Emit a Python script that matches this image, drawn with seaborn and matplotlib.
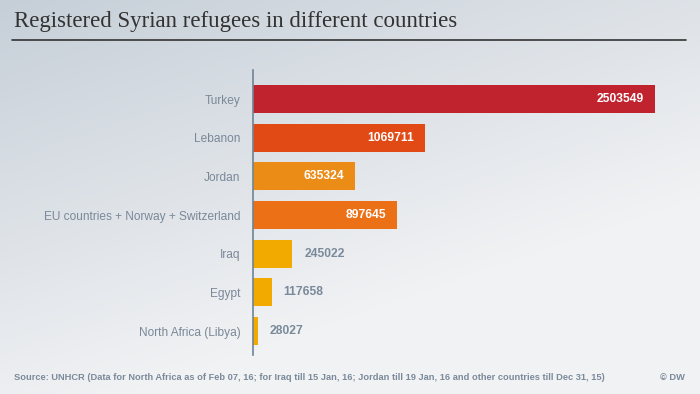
import numpy as np
import pandas as pd
import matplotlib
matplotlib.use("Agg")
import matplotlib.pyplot as plt
import seaborn as sns

countries = ["Turkey", "Lebanon", "Jordan", "EU countries + Norway + Switzerland",
             "Iraq", "Egypt", "North Africa (Libya)"]
refugees = [2503549, 1069711, 635324, 897645, 245022, 117658, 28027]
bar_colors = ["#C0222E", "#E24A15", "#EB8C17", "#EB7016", "#F2AA00", "#F2AA00", "#F2AA00"]
label_inside = [True, True, True, True, False, False, False]

title = "Registered Syrian refugees in different countries"
source = ("Source: UNHCR (Data for North Africa as of Feb 07, 16; for Iraq till 15 Jan, 16; "
          "Jordan till 19 Jan, 16 and other countries till Dec 31, 15)")

df = pd.DataFrame({"country": countries, "refugees": refugees})

sns.set_style("white")
plt.rcParams["font.family"] = ["Liberation Sans", "DejaVu Sans"]

fig = plt.figure(figsize=(7, 3.94), dpi=100)

# gradient background
bg = fig.add_axes([0, 0, 1, 1], zorder=-10)
gx, gy = np.meshgrid(np.linspace(0, 1, 200), np.linspace(0, 1, 120))
g = np.clip(0.55 * gx + 0.9 * gy, 0, 1)
c0 = np.array([0xC6, 0xCF, 0xD8]) / 255
c1 = np.array([0xF1, 0xF2, 0xF4]) / 255
img = c0[None, None, :] * (1 - g[..., None]) + c1[None, None, :] * g[..., None]
bg.imshow(img, aspect="auto", extent=[0, 1, 0, 1], origin="upper")
bg.set_xlim(0, 1)
bg.set_ylim(0, 1)
bg.axis("off")

ax = fig.add_axes([253 / 700, 1 - 355 / 394, (655 - 253) / 700, 285 / 394])
ax.patch.set_alpha(0)
sns.barplot(data=df, x="refugees", y="country", hue="country", palette=bar_colors,
            legend=False, width=0.72, ax=ax, saturation=1, linewidth=0)
ax.set_xlim(0, max(refugees))
ax.set_ylim(6.62, -0.75)
ax.set_xlabel("")
ax.set_ylabel("")
ax.set_xticks([])
for s in ["top", "right", "bottom"]:
    ax.spines[s].set_visible(False)
ax.spines["left"].set_color("#6F8496")
ax.spines["left"].set_linewidth(1.2)
ax.tick_params(axis="y", length=0, pad=9, labelsize=8.6, labelcolor="#7A8898")

for i, (v, inside) in enumerate(zip(refugees, label_inside)):
    if inside:
        ax.annotate(f"{v}", (v, i), xytext=(-8, 0), textcoords="offset points",
                    ha="right", va="center", color="white", fontsize=8.7, fontweight="bold")
    else:
        ax.annotate(f"{v}", (v, i), xytext=(8.5, 0), textcoords="offset points",
                    ha="left", va="center", color="#7A8A9A", fontsize=8.7, fontweight="bold")

fig.text(14 / 700, 1 - 22 / 394, title, family=["Liberation Serif", "DejaVu Serif"],
         fontsize=16.5, color="#333333", va="center", ha="left")
bg.plot([12 / 700, 686 / 700], [1 - 40 / 394, 1 - 40 / 394], color="#333333", lw=1.2)

fig.text(14 / 700, 1 - 377 / 394, source, fontsize=6.65, fontweight="bold",
         color="#7A8A9A", va="center", ha="left")
fig.text(685 / 700, 1 - 377 / 394, "© DW", fontsize=6.65, fontweight="bold",
         color="#7A8A9A", va="center", ha="right")

fig.savefig("out.png", dpi=100)
